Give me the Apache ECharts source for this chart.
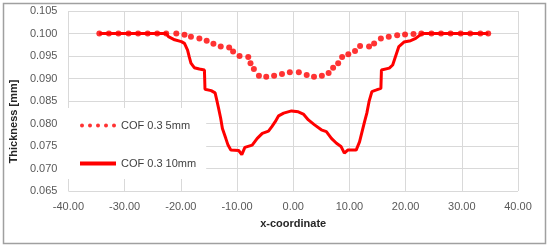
<!DOCTYPE html>
<html>
<head>
<meta charset="utf-8">
<script src="https://cdn.jsdelivr.net/npm/echarts@6/dist/echarts.min.js"></script>
<style>
  html, body { margin: 0; padding: 0; background: #ffffff; }
  #chart { width: 550px; height: 249px; }
</style>
</head>
<body>
<div id="chart"></div>
<script>
// COF 0.3 5mm (dots)
const dotsX = [-34.5, -32.8, -31.1, -29.3, -27.6, -25.9, -24.2, -22.6, -20.8, -19.35, -18.2, -16.7, -15.4, -14.2,
  -12.9, -11.4, -10.7, -9.55, -8.0, -7.6, -7.0, -6.1, -4.8, -3.4, -2.0, -0.6, 1.0, 2.4, 3.7, 5.1, 6.3, 7.1, 8.0,
  8.7, 9.8, 11.0, 11.9, 13.5, 14.4, 15.6, 17.0, 18.5, 19.9, 21.4, 22.8, 24.6, 26.3, 28.0, 29.8, 31.5, 33.3, 34.7];
const dotsY = [0.1000, 0.1000, 0.1000, 0.1000, 0.1000, 0.1000, 0.1000, 0.1000, 0.1000, 0.0997, 0.0993, 0.0989, 0.0984, 0.0977,
  0.0971, 0.0969, 0.0960, 0.0950, 0.0948, 0.0934, 0.0921, 0.0906, 0.0904, 0.0906, 0.0910, 0.0914, 0.0914, 0.0908, 0.0904, 0.0906, 0.0912, 0.0924, 0.0934,
  0.0948, 0.0954, 0.0961, 0.0972, 0.0971, 0.0978, 0.0989, 0.0993, 0.0996, 0.0998, 0.0999, 0.1000, 0.1000, 0.1000, 0.1000, 0.1000, 0.1000, 0.1000, 0.1000];

// COF 0.3 10mm (solid)
const lineX = [-34.5, -22.6, -22.2, -21.1, -19.9, -19.35, -18.8, -18.5, -18.2, -17.6, -16.7, -15.8, -15.7, -14.6, -13.9,
  -13.6, -13.3, -12.9, -12.6, -12.0, -11.6, -11.1, -9.7, -9.15, -8.6, -7.3, -6.4, -5.5, -4.4, -3.8, -3.2, -2.6, -1.7,
  -0.3, 0.9, 1.8, 2.7, 3.8, 5.0, 5.9, 6.8, 7.7, 8.5, 9.1, 9.7, 11.2, 11.8, 12.1, 12.7, 13.1, 13.5, 14.0, 14.7, 15.6,
  15.7, 17.1, 17.7, 18.1, 18.8, 19.7, 20.9, 21.8, 22.6, 23.0, 34.7];
const lineY = [0.1000, 0.1000, 0.0993, 0.0986, 0.0982, 0.0978, 0.0963, 0.0948, 0.0934, 0.0924, 0.0921, 0.0919, 0.0876, 0.0873, 0.0868,
  0.0852, 0.0835, 0.0811, 0.0789, 0.0767, 0.0752, 0.0741, 0.0740, 0.0731, 0.0747, 0.0752, 0.0767, 0.0778, 0.0783, 0.0793, 0.0804, 0.0817, 0.0823,
  0.0828, 0.0826, 0.0821, 0.0808, 0.0797, 0.0786, 0.0782, 0.0767, 0.0756, 0.0749, 0.0734, 0.0741, 0.0741, 0.0759, 0.0774, 0.0804, 0.0823, 0.0849, 0.0871, 0.0874, 0.0878,
  0.0919, 0.0923, 0.0930, 0.0945, 0.0971, 0.0981, 0.0984, 0.0989, 0.0997, 0.1000, 0.1000];

const seriesNames = ['COF 0.3 5mm', 'COF 0.3 10mm'];

const zip = (xs, ys) => xs.map((x, i) => [x, ys[i]]);

// five dots for the marker legend, a bar for the line legend
const dotIcon = 'path://M0,2a2,2 0 1,0 4,0a2,2 0 1,0 -4,0z M8,2a2,2 0 1,0 4,0a2,2 0 1,0 -4,0z M16,2a2,2 0 1,0 4,0a2,2 0 1,0 -4,0z M24,2a2,2 0 1,0 4,0a2,2 0 1,0 -4,0z M32,2a2,2 0 1,0 4,0a2,2 0 1,0 -4,0z';
const barIcon = 'path://M0,0h36v4h-36z';

const chart = echarts.init(document.getElementById('chart'), null, { renderer: 'canvas' });

const font = 'Liberation Sans, Arial, sans-serif';
const red = '#ff0000';
const gridColor = '#d9d9d9';

chart.setOption({
  animation: false,
  backgroundColor: '#ffffff',
  textStyle: { fontFamily: font },
  graphic: [{
    type: 'rect',
    shape: { x: 3.5, y: 3.5, width: 542, height: 240 },
    style: { fill: 'none', stroke: '#a0a0a0', lineWidth: 1.5 },
    z: 0
  }],
  grid: { left: 65, right: 32, top: 11, bottom: 58 },
  legend: {
    orient: 'vertical',
    left: 65,
    top: 108,
    padding: [12, 10, 10, 15],
    itemGap: 27,
    itemWidth: 36,
    itemHeight: 5,
    backgroundColor: '#ffffff',
    textStyle: { fontSize: 11, color: '#404040', fontFamily: font },
    data: [
      { name: seriesNames[0], icon: dotIcon },
      { name: seriesNames[1], icon: barIcon }
    ],
    z: 10
  },
  xAxis: {
    type: 'value',
    min: -40,
    max: 40,
    interval: 10,
    name: 'x-coordinate',
    nameLocation: 'middle',
    nameGap: 27,
    nameTextStyle: { fontSize: 11, fontWeight: 'bold', color: '#262626' },
    axisLine: { show: false },
    axisTick: { show: false },
    axisLabel: {
      fontSize: 11,
      color: '#595959',
      margin: 10,
      formatter: v => v.toFixed(2)
    },
    splitLine: { show: true, lineStyle: { color: gridColor, width: 1 } }
  },
  yAxis: {
    type: 'value',
    min: 0.065,
    max: 0.105,
    interval: 0.005,
    name: 'Thickness [mm]',
    nameLocation: 'middle',
    nameGap: 41,
    // title sits a little below the middle of the axis
    nameTextStyle: { fontSize: 11, fontWeight: 'bold', color: '#262626', padding: [0, 41, 0, 0] },
    axisLine: { show: false },
    axisTick: { show: false },
    axisLabel: {
      fontSize: 11,
      color: '#595959',
      margin: 11,
      formatter: v => v.toFixed(3)
    },
    splitLine: { show: true, lineStyle: { color: gridColor, width: 1 } }
  },
  series: [
    {
      name: seriesNames[0],
      type: 'scatter',
      data: zip(dotsX, dotsY),
      symbol: 'circle',
      symbolSize: 6,
      itemStyle: { color: red },
      z: 3
    },
    {
      name: seriesNames[1],
      type: 'line',
      data: zip(lineX, lineY),
      showSymbol: false,
      symbol: 'none',
      lineStyle: { color: red, width: 3 },
      itemStyle: { color: red },
      z: 2
    }
  ]
});
</script>
</body>
</html>
